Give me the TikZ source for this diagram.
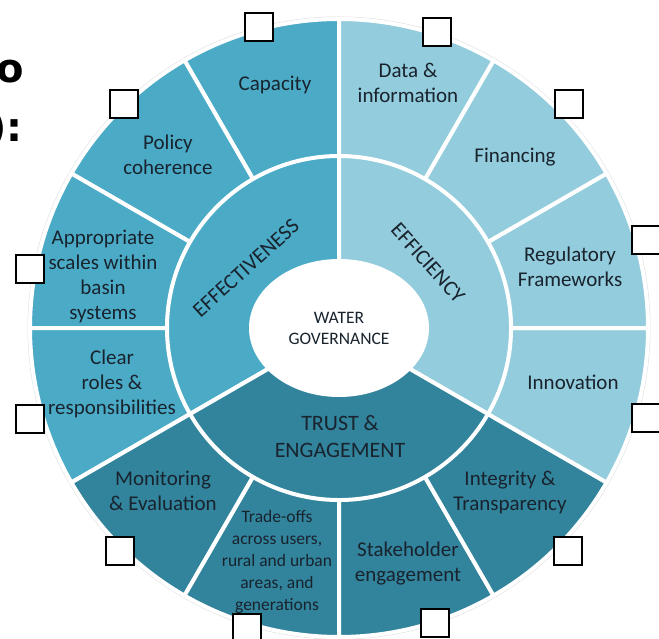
\documentclass[tikz,border=0pt]{standalone}
\usepackage{fontspec}
\setmainfont{Carlito}
\newfontfamily\hdfont{DejaVu Sans}
\usetikzlibrary{shapes.geometric}
\definecolor{effc}{HTML}{4BABC6}
\definecolor{efic}{HTML}{93CCDC}
\definecolor{trc}{HTML}{32849C}
\definecolor{txt}{HTML}{18232E}
\tikzset{
  lbl/.style={font=\fontsize{21}{25}\selectfont, align=center, text=txt, inner sep=0pt},
  small/.style={font=\fontsize{17.5}{22}\selectfont, align=center, text=txt, inner sep=0pt},
  core/.style={font=\fontsize{21.5}{26}\selectfont, align=center, text=txt, inner sep=0pt},
  chk/.style={draw=black, fill=white, line width=2.6pt, minimum size=28pt, inner sep=0pt},
  sep/.style={draw=white, line width=4pt},
  head/.style={font=\hdfont\bfseries\fontsize{40}{48}\selectfont, text=black, inner sep=0pt, anchor=base east}
}
\begin{document}
\begin{tikzpicture}[x=1pt,y=1pt]
\useasboundingbox (0,0) rectangle (659,-639);
% partial heading text at the left edge
\node[head] (h1) at (24,-83) {o};
\node[head] (h2) at (23,-142) {):};
\begin{scope}[shift={(339,-328)}]
  % faint rim
  \draw[black!12, line width=1pt] (0,0) circle[radius=311];
  % outer ring segments
  \foreach \a/\c in {90/effc,120/effc,150/effc,180/effc,210/trc,240/trc,270/trc,300/trc,330/efic,0/efic,30/efic,60/efic}
    \filldraw[fill=\c, sep] (0,0) -- (\a:309) arc[start angle=\a, delta angle=30, radius=309] -- cycle;
  % inner ring
  \filldraw[fill=effc, sep] (0,0) -- (90:172) arc[start angle=90, end angle=210, radius=172] -- cycle;
  \filldraw[fill=efic, sep] (0,0) -- (-30:172) arc[start angle=-30, end angle=90, radius=172] -- cycle;
  \filldraw[fill=trc, sep] (0,0) -- (210:172) arc[start angle=210, end angle=330, radius=172] -- cycle;
  % centre
  \node[ellipse, fill=white, minimum width=180pt, minimum height=138pt, inner sep=0pt,
        font=\fontsize{17.5}{21}\selectfont, align=center, text=txt] (wg) at (0,0) {WATER\\GOVERNANCE};
\end{scope}
% inner labels
\node[core, rotate=42] (eff) at (246,-268) {EFFECTIVENESS};
\node[core, rotate=-48] (efi) at (428,-263) {EFFICIENCY};
\node[core, font=\fontsize{22}{27}\selectfont] (tr) at (340,-437) {TRUST \&\\ENGAGEMENT};
% outer labels
\node[lbl] (cap) at (275,-85) {Capacity};
\node[lbl] (data) at (408,-83) {Data \&\\information};
\node[lbl] (pol) at (168,-155) {Policy\\coherence};
\node[lbl] (fin) at (515,-157) {Financing};
\node[lbl] (app) at (103,-276) {Appropriate\\scales within\\basin\\systems};
\node[lbl] (reg) at (570,-267) {Regulatory\\Frameworks};
\node[lbl] (clr) at (112,-384) {Clear\\roles \&\\responsibilities};
\node[lbl] (inn) at (573,-382) {Innovation};
\node[lbl] (mon) at (163,-491) {Monitoring\\\& Evaluation};
\node[small] (trd) at (277,-562) {Trade-offs\\across users,\\rural and urban\\areas, and\\generations};
\node[lbl] (stk) at (408,-564) {Stakeholder\\engagement};
\node[lbl] (int) at (510,-492) {Integrity \&\\Transparency};
% check boxes
\node[chk] (b1) at (259,-27) {};
\node[chk] (b2) at (437,-32) {};
\node[chk] (b3) at (124,-104) {};
\node[chk] (b4) at (569,-104) {};
\node[chk] (b5) at (30,-269) {};
\node[chk] (b6) at (646,-240) {};
\node[chk] (b7) at (30,-419) {};
\node[chk] (b8) at (646,-418) {};
\node[chk] (b9) at (120,-551) {};
\node[chk] (b10) at (568,-551) {};
\node[chk] (b11) at (247,-628) {};
\node[chk] (b12) at (435,-623) {};
\end{tikzpicture}
\end{document}
